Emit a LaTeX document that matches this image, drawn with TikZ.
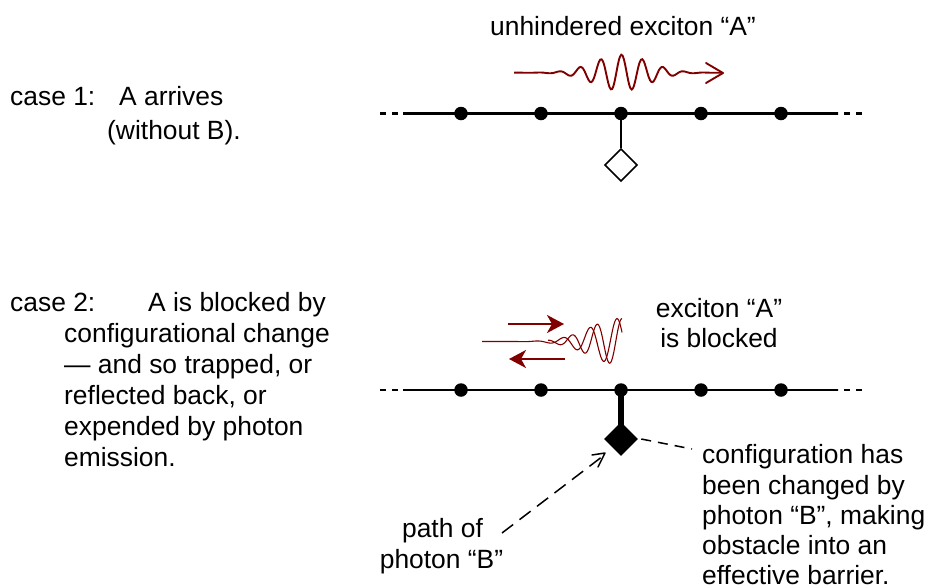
\documentclass[tikz,border=0pt]{standalone}
\usepackage{fontspec}
\setmainfont{Liberation Sans}
\usetikzlibrary{arrows.meta}
\definecolor{wavered}{RGB}{128,0,0}
\tikzset{
 x=1pt,y=-1pt,
 lbl/.style={anchor=base west,inner sep=0pt,font=\fontsize{26.4}{30}\selectfont},
 dotn/.style={circle,fill=black,inner sep=0pt,minimum size=13.5pt},
 chain/.style={line width=2.2pt,black},
 wave/.style={wavered,line width=1.9pt},
 thinwave/.style={wavered,line width=1.1pt},
 darrow/.style={wavered,line width=2pt,-{Stealth[length=17pt,width=18pt,inset=5pt]}},
 dashl/.style={line width=1.5pt,dash pattern=on 10pt off 7pt},
}
\begin{document}
\begin{tikzpicture}
\useasboundingbox (0,0) rectangle (927,587);
% case 1
\node[lbl] at (490,35) {unhindered exciton “A”};
\node[lbl] at (10,105) {case 1:};
\node[lbl] at (119,105) {A arrives};
\node[lbl] at (107,139) {(without B).};
\coordinate (aL) at (403,113.5); \coordinate (aR) at (838,113.5);
\coordinate (aLd) at (380,113.5); \coordinate (aRd) at (862,113.5);
\draw[chain] (aL)--(aR);
\draw[chain,dash pattern=on 6pt off 6pt] (aLd)--(aL);
\draw[chain,dash pattern=on 6pt off 6pt] (aRd)--(aR);
\foreach \n/\x in {1/461,2/541,3/621,4/701,5/781}{\node[dotn] (a\n) at (\x,113.5) {};}
\node[draw=black,line width=1.6pt,minimum size=22.6pt,inner sep=0pt,rotate=45,fill=white] (ad) at (621,165) {};
\draw[chain] (a3)--(ad.north east);
\draw[wave,domain=514:722,samples=160,smooth] plot (\x,{72.7-18*exp(-((\x-621.5)/10)*((\x-621.5)/10)/14.88)*cos(17.391*(\x-621.5))});
\coordinate (wtip) at (723,73);
\draw[wave,line join=round,line cap=round] (706,63)--(wtip)--(706,83);
% case 2
\node[lbl] at (10,311) {case 2:};
\node[lbl] at (148,311) {A is blocked by};
\node[lbl] at (64,342) {configurational change};
\node[lbl] at (64,373) {— and so trapped, or};
\node[lbl] at (64,404) {reflected back, or};
\node[lbl] at (64,435) {expended by photon};
\node[lbl] at (64,466) {emission.};
\node[lbl,anchor=base] at (719,317) {exciton “A”};
\node[lbl,anchor=base] at (719,347) {is blocked};
\node[lbl] at (702,463) {configuration has};
\node[lbl] at (702,494) {been changed by};
\node[lbl] at (702,524.5) {photon “B”, making};
\node[lbl] at (702,554.5) {obstacle into an};
\node[lbl] at (702,584.5) {effective barrier.};
\node[lbl,anchor=base] at (442.5,537.5) {path of};
\node[lbl,anchor=base] at (441.5,568) {photon “B”};
\coordinate (bL) at (403,390); \coordinate (bR) at (838,390);
\coordinate (bLd) at (380,390); \coordinate (bRd) at (862,390);
\draw[chain] (bL)--(bR);
\draw[chain,dash pattern=on 6pt off 6pt] (bLd)--(bL);
\draw[chain,dash pattern=on 6pt off 6pt] (bRd)--(bR);
\foreach \n/\x in {1/461,2/541,3/621,4/701,5/781}{\node[dotn] (b\n) at (\x,390) {};}
\node[fill=black,minimum size=24pt,inner sep=0pt,rotate=45] (bd) at (621,439) {};
\draw[line width=6.5pt] (b3.center)--(bd.center);
\draw[thinwave,domain=482:622,samples=160,smooth] plot (\x,{341.5-23*exp(-((\x-620)/10)*((\x-620)/10)/18.3)*cos(13.333*(\x-617))});
\draw[thinwave,domain=548:622,samples=90,smooth] plot (\x,{341.5-23*exp(-((\x-620)/10)*((\x-620)/10)/18.3)*cos(14.4*(\x-622))});
\coordinate (u1) at (508,324); \coordinate (u2) at (564,324);
\coordinate (d1) at (565,359); \coordinate (d2) at (509,359);
\draw[darrow] (u1)--(u2);
\draw[darrow] (d1)--(d2);
\coordinate (ps) at (502,533);
\draw[line width=1.5pt,dash pattern=on 14pt off 8pt] (ps)--(603,456);
\draw[line width=1.5pt,line cap=round,line join=round] (592,455)--(605,453)--(598,467);
\coordinate (ce) at (692,449);
\draw[dashl] (bd.south east)++(3,0) -- (ce);
\end{tikzpicture}
\end{document}
